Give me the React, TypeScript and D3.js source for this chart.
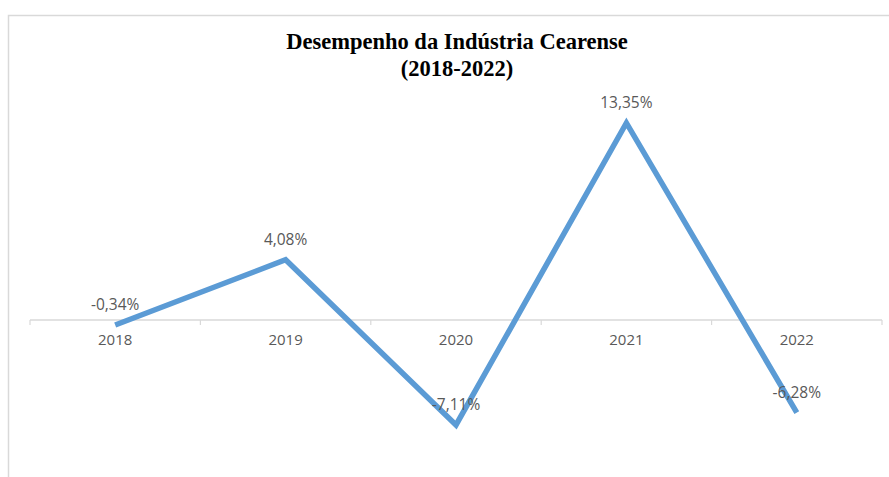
import React from "react";
import * as d3 from "d3";

const years = ["2018", "2019", "2020", "2021", "2022"];
const growth = [-0.34, 4.08, -7.11, 13.35, -6.28];
const labels = ["-0,34%", "4,08%", "-7,11%", "13,35%", "-6,28%"];
const titleLines = ["Desempenho da Indústria Cearense", "(2018-2022)"];

export default function App() {
  const W = 889, H = 477;
  const x = d3.scaleBand<string>().domain(years).range([30, 882]).padding(0);
  const y = d3.scaleLinear().domain([-10, 15]).range([320 + 10 * 14.76, 320 - 15 * 14.76]);
  const line = d3.line<number>().x((_, i) => (x(years[i]) as number) + x.bandwidth() / 2).y((d) => y(d));
  const ticks = [...years.map((c) => x(c) as number), 882];
  const font = "'Open Sans', 'DejaVu Sans', sans-serif";
  return (
    <svg width={W} height={H} style={{ position: "absolute", left: 0, top: 0, background: "#fff" }}>
      <rect x={8.5} y={15.5} width={W + 10} height={H + 10} fill="#fff" stroke="#d9d9d9" strokeWidth={1.5} />
      {titleLines.map((t, i) => (
        <text key={i} x={457} y={49 + i * 27} textAnchor="middle" fontFamily="'Liberation Serif', 'Times New Roman', serif" fontWeight="bold" fontSize={22.5} fill="#000">
          {t}
        </text>
      ))}
      <line x1={30} x2={882} y1={y(0)} y2={y(0)} stroke="#d9d9d9" strokeWidth={1.5} />
      {ticks.map((t, i) => (
        <line key={i} x1={t} x2={t} y1={y(0)} y2={y(0) + 5} stroke="#d9d9d9" strokeWidth={1.2} />
      ))}
      {years.map((c) => (
        <text key={c} x={(x(c) as number) + x.bandwidth() / 2} y={y(0) + 25} textAnchor="middle" fontFamily={font} fontSize={15} fill="#595959">
          {c}
        </text>
      ))}
      <path d={line(growth) || ""} fill="none" stroke="#5b9bd5" strokeWidth={5.5} strokeLinejoin="miter" />
      {growth.map((v, i) => (
        <text key={i} x={(x(years[i]) as number) + x.bandwidth() / 2} y={y(v) - 15} textAnchor="middle" fontFamily={font} fontSize={15.5} fill="#595959">
          {labels[i]}
        </text>
      ))}
    </svg>
  );
}
